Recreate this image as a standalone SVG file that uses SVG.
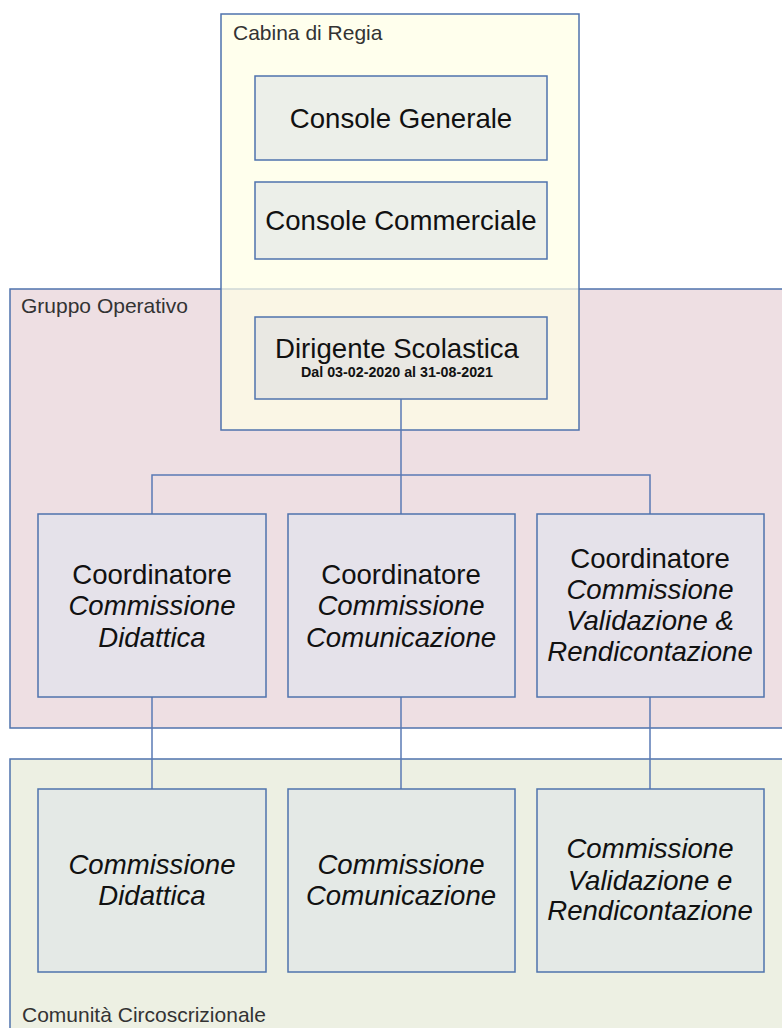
<svg xmlns="http://www.w3.org/2000/svg" width="782" height="1028" viewBox="0 0 782 1028">
<style>
.cont{stroke:#4f73ad;stroke-width:1.5}
.node{stroke:#4f73ad;stroke-width:1.5}
.lbl{font-family:"Liberation Sans",Arial,sans-serif;font-size:21px;fill:#333}
.t{font-family:"Liberation Sans",Arial,sans-serif;font-size:27.6px;fill:#111;text-anchor:middle}
.i{font-style:italic}
.conn{fill:none;stroke:#5a7ab5;stroke-width:1.5}
</style>
<rect width="782" height="1028" fill="#ffffff"/>
<g id="gruppo-operativo">
<rect class="cont" x="10" y="289" width="790" height="439" fill="#eedfe3"/>
<text class="lbl" x="21" y="313">Gruppo Operativo</text>
</g>
<g id="comunita-circoscrizionale">
<rect class="cont" x="10" y="759" width="790" height="300" fill="#edf0e3"/>
<text class="lbl" x="22" y="1022">Comunità Circoscrizionale</text>
</g>
<g id="cabina-di-regia">
<rect x="221" y="14" width="358" height="416" fill="#ffffe6" fill-opacity="0.72" stroke="#4f73ad" stroke-width="1.5"/>
<text class="lbl" x="233" y="40">Cabina di Regia</text>
</g>
<g id="connectors">
<path class="conn" d="M401 399V514"/>
<path class="conn" d="M152 514V475H650V514"/>
<path class="conn" d="M152 697V789"/>
<path class="conn" d="M401 697V789"/>
<path class="conn" d="M650 697V789"/>
</g>
<g id="console-generale">
<rect class="node" x="255" y="76" width="292" height="84" fill="#ecefe9"/>
<text class="t" x="401" y="128">Console Generale</text>
</g>
<g id="console-commerciale">
<rect class="node" x="255" y="182" width="292" height="77" fill="#ecefe9"/>
<text class="t" x="401" y="230">Console Commerciale</text>
</g>
<g id="dirigente-scolastica">
<rect class="node" x="255" y="317" width="292" height="82" fill="#e9e8e3"/>
<text class="t" x="397" y="358">Dirigente Scolastica</text>
<text x="397" y="377" font-family="'Liberation Sans',Arial,sans-serif" font-size="15.5" font-weight="bold" fill="#111" text-anchor="middle" textLength="192" lengthAdjust="spacingAndGlyphs">Dal 03-02-2020  al 31-08-2021</text>
</g>
<g id="coord-didattica">
<rect class="node" x="38" y="514" width="228" height="183" fill="#e5e2ea"/>
<text class="t" x="152" y="584">Coordinatore</text>
<text class="t i" x="152" y="615">Commissione</text>
<text class="t i" x="152" y="647">Didattica</text>
</g>
<g id="coord-comunicazione">
<rect class="node" x="288" y="514" width="227" height="183" fill="#e5e2ea"/>
<text class="t" x="401" y="584">Coordinatore</text>
<text class="t i" x="401" y="615">Commissione</text>
<text class="t i" x="401" y="647">Comunicazione</text>
</g>
<g id="coord-validazione">
<rect class="node" x="537" y="514" width="227" height="183" fill="#e5e2ea"/>
<text class="t" x="650" y="568">Coordinatore</text>
<text class="t i" x="650" y="599">Commissione</text>
<text class="t i" x="650" y="630">Validazione &amp;</text>
<text class="t i" x="650" y="661">Rendicontazione</text>
</g>
<g id="comm-didattica">
<rect class="node" x="38" y="789" width="228" height="183" fill="#e4e9e6"/>
<text class="t i" x="152" y="874">Commissione</text>
<text class="t i" x="152" y="905">Didattica</text>
</g>
<g id="comm-comunicazione">
<rect class="node" x="288" y="789" width="227" height="183" fill="#e4e9e6"/>
<text class="t i" x="401" y="874">Commissione</text>
<text class="t i" x="401" y="905">Comunicazione</text>
</g>
<g id="comm-validazione">
<rect class="node" x="537" y="789" width="227" height="183" fill="#e4e9e6"/>
<text class="t i" x="650" y="858">Commissione</text>
<text class="t i" x="650" y="890">Validazione e</text>
<text class="t i" x="650" y="920">Rendicontazione</text>
</g>
</svg>
